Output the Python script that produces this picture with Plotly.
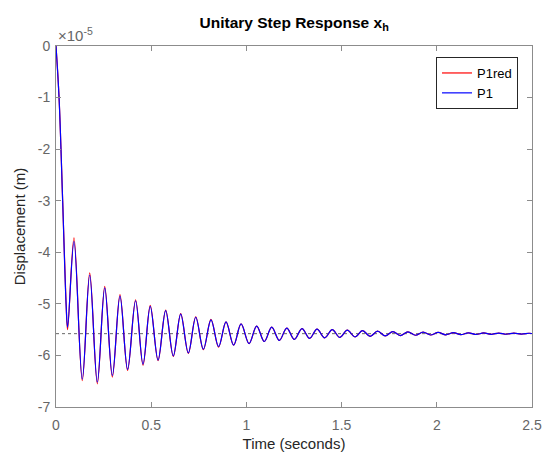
import plotly.graph_objects as go

# ---- data (displacement in units of 1e-5 m) at extrema ----
t_p1 = [0.0, 0.016, 0.035, 0.053, 0.061, 0.0945, 0.138, 0.177, 0.217, 0.256, 0.296, 0.336,
        0.376, 0.418, 0.457, 0.495, 0.536, 0.576, 0.616, 0.655, 0.695, 0.734, 0.774,
        0.814, 0.854, 0.893, 0.933, 0.972, 1.014, 1.054, 1.094, 1.133, 1.173, 1.212,
        1.252, 1.292, 1.332, 1.371, 1.411, 1.451, 1.490, 1.530, 1.570, 1.610, 1.650,
        1.689, 1.729, 1.769, 1.808, 1.848, 1.888, 1.928, 1.967, 2.007, 2.047, 2.087,
        2.126, 2.166, 2.206, 2.246, 2.285, 2.325, 2.365, 2.405, 2.444, 2.484, 2.5]
x_p1 = [0.0, -1.0, -3.0, -5.0, -5.45, -3.79, -6.46, -4.44, -6.52, -4.69, -6.39, -4.85,
        -6.27, -4.94, -6.17, -5.05, -6.09, -5.13, -6.01, -5.20, -5.95, -5.26, -5.88,
        -5.31, -5.83, -5.35, -5.80, -5.39, -5.77, -5.43, -5.73, -5.45, -5.71, -5.47,
        -5.69, -5.48, -5.67, -5.49, -5.66, -5.50, -5.65, -5.51, -5.64, -5.52, -5.63,
        -5.53, -5.622, -5.538, -5.615, -5.544, -5.609, -5.549, -5.604, -5.554, -5.600, -5.558,
        -5.597, -5.561, -5.594, -5.564, -5.591, -5.566, -5.589, -5.568, -5.587, -5.570, -5.575]
x_p1red = [0.0, -1.0, -3.0, -5.0, -5.50, -3.72, -6.49, -4.40, -6.55, -4.66, -6.42, -4.82,
           -6.29, -4.92, -6.19, -5.03, -6.10, -5.12, -6.02, -5.19, -5.96, -5.25, -5.89,
           -5.30, -5.84, -5.35, -5.80, -5.39, -5.77, -5.43, -5.73, -5.45, -5.71, -5.47,
           -5.69, -5.48, -5.67, -5.49, -5.66, -5.50, -5.65, -5.51, -5.64, -5.52, -5.63,
           -5.53, -5.622, -5.538, -5.615, -5.544, -5.609, -5.549, -5.604, -5.554, -5.600, -5.558,
           -5.597, -5.561, -5.594, -5.564, -5.591, -5.566, -5.589, -5.568, -5.587, -5.570, -5.575]
final_value = -5.578
t_range = [0.0, 2.5]

x_tickvals = [0, 0.5, 1, 1.5, 2, 2.5]
x_ticktext = ["0", "0.5", "1", "1.5", "2", "2.5"]
y_tickvals = [-7, -6, -5, -4, -3, -2, -1, 0]
y_ticktext = ["-7", "-6", "-5", "-4", "-3", "-2", "-1", "0"]

FONT = "Liberation Sans, Arial, Helvetica, sans-serif"
AXC = "#8c8c8c"
TXC = "#666666"

fig = go.Figure()
fig.add_trace(go.Scatter(x=t_range, y=[final_value, final_value], mode="lines",
                         line=dict(color="#666666", width=1, dash="dot"),
                         showlegend=False, hoverinfo="skip"))
fig.add_trace(go.Scatter(x=t_p1, y=x_p1red, mode="lines", name="P1red",
                         line=dict(color="#ff0000", width=1.2, shape="spline", smoothing=1.0)))
fig.add_trace(go.Scatter(x=t_p1, y=x_p1, mode="lines", name="P1",
                         line=dict(color="#0000ff", width=1.2, shape="spline", smoothing=1.0)))

axis_common = dict(showline=True, linecolor=AXC, linewidth=1, mirror="allticks",
                   ticks="inside", ticklen=5, tickcolor=AXC, showgrid=False, zeroline=False,
                   automargin=False, tickfont=dict(family=FONT, size=14, color=TXC))

fig.update_xaxes(range=[0, 2.5], tickvals=x_tickvals, ticktext=x_ticktext, ticklabelstandoff=5,
                 title=dict(text="Time (seconds)", font=dict(family=FONT, size=15, color="#262626"),
                            standoff=6), **axis_common)
fig.update_yaxes(range=[-7, 0], tickvals=y_tickvals, ticktext=y_ticktext, ticklabelstandoff=2,
                 title=dict(text="Displacement (m)", font=dict(family=FONT, size=15, color="#262626"),
                            standoff=8), **axis_common)

fig.update_layout(
    width=551, height=454,
    margin=dict(l=56, r=19, t=46, b=47),
    paper_bgcolor="white", plot_bgcolor="white",
    title=dict(text="<b>Unitary Step Response x<sub>h</sub></b>", x=0.5339, xanchor="center",
               y=0.950, yanchor="middle", font=dict(family=FONT, size=15.5, color="#000000")),
    legend=dict(x=0.9706, y=0.9695, xanchor="right", yanchor="top", bgcolor="white",
                bordercolor="#262626", borderwidth=1, font=dict(family=FONT, size=13, color="#000"),
                tracegroupgap=0, itemwidth=30),
    annotations=[dict(text="×10<sup>-5</sup>", xref="paper", yref="paper", x=0.0, y=1.0,
                      xanchor="left", yanchor="bottom", showarrow=False, yshift=0,
                      font=dict(family=FONT, size=15, color=TXC))],
)

fig.write_html("out.html")
